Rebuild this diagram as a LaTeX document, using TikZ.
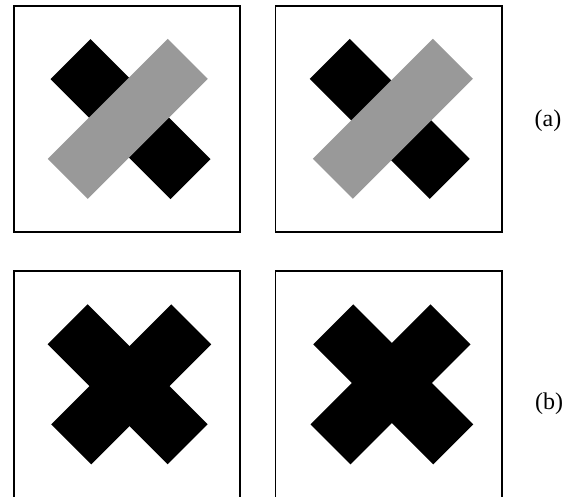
\documentclass[tikz,border=0pt]{standalone}
\usepackage{fontspec}
\setmainfont{Liberation Serif}
\definecolor{bargray}{RGB}{153,153,153}
\tikzset{
  frame/.style={draw=black,line width=1.6pt,fill=white},
  blackbar/.style={fill=black},
  graybar/.style={fill=bargray},
  lbl/.style={font=\fontsize{24}{28}\selectfont,inner sep=0pt}
}
\begin{document}
\begin{tikzpicture}[x=1pt,y=-1pt]
\useasboundingbox (0,0) rectangle (570,496);
\clip (0,0) rectangle (570,496);
% bar along screen diagonal TL-BR
\def\barA#1#2#3{\fill[#3] (#1-40,#2-80) -- (#1+80,#2+40) -- (#1+40,#2+80) -- (#1-80,#2-40) -- cycle;}
% bar along screen diagonal BL-TR
\def\barB#1#2#3{\fill[#3] (#1+40,#2-80) -- (#1+80,#2-40) -- (#1-40,#2+80) -- (#1-80,#2+40) -- cycle;}
% frames
\draw[frame] (14,6) rectangle (240,232);
\draw[frame] (275.5,6) rectangle (502,232);
\draw[frame] (14,271) rectangle (240,498);
\draw[frame] (275.5,271) rectangle (502,498);
% panel a1
\barA{130.5}{119}{blackbar}
\barB{127.8}{118.8}{graybar}
% panel a2
\barA{389.7}{118.8}{blackbar}
\barB{392.9}{118.8}{graybar}
% panel b1
\barA{127.6}{384.3}{blackbar}
\barB{131.2}{384.3}{blackbar}
% panel b2
\barA{393.3}{384.3}{blackbar}
\barB{390.5}{384.3}{blackbar}
% labels
\node[lbl] (la) at (548,121) {(a)};
\node[lbl] (lb) at (549,404) {(b)};
\end{tikzpicture}
\end{document}
